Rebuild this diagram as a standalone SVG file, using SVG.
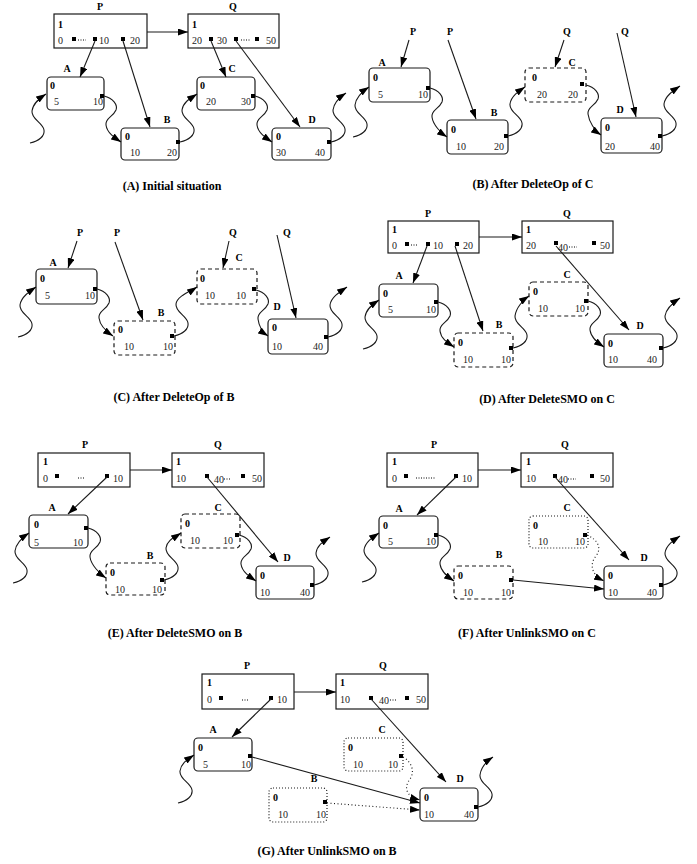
<svg xmlns="http://www.w3.org/2000/svg" width="697" height="864" viewBox="0 0 697 864">
<style>
.b{fill:none;stroke:#1a1a1a;stroke-width:1.2}
.ds{stroke-dasharray:4,3}
.dt{stroke-dasharray:1,2}
.sq{fill:#000}
.dl{stroke:#000;stroke-width:1;stroke-dasharray:1,1.5}
.l{font-family:"Liberation Serif",serif;font-weight:bold;font-size:10px;text-anchor:middle;fill:#000}
.z{font-family:"Liberation Serif",serif;font-weight:bold;font-size:10px;fill:#000}
.n{font-family:"Liberation Serif",serif;font-size:10px;fill:#222}
.cap{font-family:"Liberation Serif",serif;font-weight:bold;font-size:12px;text-anchor:middle;fill:#000}
.e{fill:none;stroke:#1a1a1a;stroke-width:1.1;marker-end:url(#ah)}
.ed{fill:none;stroke:#1a1a1a;stroke-width:1.1;stroke-dasharray:1,2.5;marker-end:url(#ah)}
</style>
<defs>
<marker id="ah" markerUnits="userSpaceOnUse" markerWidth="10" markerHeight="7" viewBox="0 0 10 7" refX="10" refY="3.5" orient="auto"><path d="M0,0L10,3.5L0,7z" fill="#000"/></marker>
</defs>

<!-- ===== Panel A ===== -->
<g id="A-P"><text class="l" x="100" y="10">P</text><rect class="b" x="54" y="14" width="93" height="34"/><text class="z" x="58" y="28">1</text><text class="n" x="58" y="44">0</text><rect class="sq" x="72" y="37" width="4" height="4"/><line class="dl" x1="78" y1="40" x2="86" y2="40"/><rect class="sq" x="93" y="37" width="4" height="4"/><text class="n" x="99" y="44">10</text><rect class="sq" x="121" y="37" width="4" height="4"/><text class="n" x="130" y="44">20</text></g>
<g id="A-Q"><text class="l" x="233" y="10">Q</text><rect class="b" x="188" y="14" width="91" height="34"/><text class="z" x="192" y="28">1</text><text class="n" x="192" y="44">20</text><rect class="sq" x="209" y="37" width="4" height="4"/><text class="n" x="217" y="44">30</text><rect class="sq" x="234" y="37" width="4" height="4"/><line class="dl" x1="241" y1="40" x2="250" y2="40"/><rect class="sq" x="255" y="37" width="4" height="4"/><text class="n" x="266" y="44">50</text></g>
<g id="A-A"><text class="l" x="67" y="72">A</text><rect class="b" x="47" y="77" width="57" height="33" rx="4"/><text class="z" x="50" y="89">0</text><text class="n" x="54" y="105">5</text><text class="n" x="93" y="105">10</text><rect class="sq" x="100" y="94" width="4" height="4"/></g>
<g id="A-B"><text class="l" x="167" y="123">B</text><rect class="b" x="121" y="128" width="58" height="32" rx="4"/><text class="z" x="125" y="140">0</text><text class="n" x="130" y="156">10</text><text class="n" x="167" y="156">20</text><rect class="sq" x="176" y="140" width="4" height="4"/></g>
<g id="A-C"><text class="l" x="232" y="72">C</text><rect class="b" x="197" y="77" width="58" height="33" rx="4"/><text class="z" x="200" y="89">0</text><text class="n" x="206" y="105">20</text><text class="n" x="241" y="105">30</text><rect class="sq" x="251" y="94" width="4" height="4"/></g>
<g id="A-D"><text class="l" x="312" y="123">D</text><rect class="b" x="272" y="128" width="59" height="32" rx="4"/><text class="z" x="276" y="140">0</text><text class="n" x="276" y="156">30</text><text class="n" x="315" y="156">40</text><rect class="sq" x="327" y="140" width="4" height="4"/></g>

<!-- ===== Panel B ===== -->
<g id="B-P1"><text class="l" x="413" y="35">P</text></g>
<g id="B-P2"><text class="l" x="450" y="35">P</text></g>
<g id="B-Q1"><text class="l" x="567" y="35">Q</text></g>
<g id="B-Q2"><text class="l" x="625" y="35">Q</text></g>
<g id="B-A"><text class="l" x="382" y="66">A</text><rect class="b" x="369" y="68" width="61" height="34" rx="4"/><text class="z" x="373" y="81">0</text><text class="n" x="378" y="98">5</text><text class="n" x="418" y="98">10</text><rect class="sq" x="426" y="86" width="4" height="4"/></g>
<g id="B-B"><text class="l" x="494" y="116">B</text><rect class="b" x="447" y="120" width="61" height="34" rx="4"/><text class="z" x="451" y="133">0</text><text class="n" x="456" y="150">10</text><text class="n" x="494" y="150">20</text><rect class="sq" x="504" y="134" width="4" height="4"/></g>
<g id="B-C"><text class="l" x="572" y="66">C</text><rect class="b ds" x="525" y="68" width="61" height="34" rx="4"/><text class="z" x="532" y="81">0</text><text class="n" x="537" y="98">20</text><text class="n" x="568" y="98">20</text><rect class="sq" x="580" y="82" width="4" height="4"/></g>
<g id="B-D"><text class="l" x="620" y="113">D</text><rect class="b" x="601" y="118" width="61" height="35" rx="4"/><text class="z" x="605" y="131">0</text><text class="n" x="605" y="150">20</text><text class="n" x="650" y="150">40</text><rect class="sq" x="658" y="134" width="4" height="4"/></g>

<!-- ===== Panel C ===== -->
<g id="C-P1"><text class="l" x="80" y="236">P</text></g>
<g id="C-P2"><text class="l" x="117" y="236">P</text></g>
<g id="C-Q1"><text class="l" x="233" y="236">Q</text></g>
<g id="C-Q2"><text class="l" x="287" y="236">Q</text></g>
<g id="C-A"><text class="l" x="53" y="266">A</text><rect class="b" x="36" y="269" width="61" height="35" rx="4"/><text class="z" x="40" y="282">0</text><text class="n" x="45" y="299">5</text><text class="n" x="85" y="299">10</text><rect class="sq" x="93" y="287" width="4" height="4"/></g>
<g id="C-B"><text class="l" x="161" y="316">B</text><rect class="b ds" x="114" y="321" width="61" height="34" rx="4"/><text class="z" x="118" y="333">0</text><text class="n" x="124" y="350">10</text><text class="n" x="163" y="350">10</text><rect class="sq" x="170" y="334" width="4" height="4"/></g>
<g id="C-C"><text class="l" x="239" y="261">C</text><rect class="b ds" x="197" y="269" width="60" height="35" rx="4"/><text class="z" x="200" y="282">0</text><text class="n" x="205" y="299">10</text><text class="n" x="236" y="299">10</text><rect class="sq" x="252" y="287" width="4" height="4"/></g>
<g id="C-D"><text class="l" x="277" y="310">D</text><rect class="b" x="268" y="319" width="60" height="35" rx="4"/><text class="z" x="272" y="331">0</text><text class="n" x="272" y="350">10</text><text class="n" x="313" y="350">40</text><rect class="sq" x="324" y="335" width="4" height="4"/></g>

<!-- ===== Panel D ===== -->
<g id="D-P"><text class="l" x="428" y="217">P</text><rect class="b" x="388" y="221" width="91" height="32"/><text class="z" x="392" y="233">1</text><text class="n" x="392" y="249">0</text><rect class="sq" x="405" y="242" width="4" height="4"/><line class="dl" x1="411" y1="245" x2="418" y2="245"/><rect class="sq" x="426" y="242" width="4" height="4"/><text class="n" x="433" y="249">10</text><rect class="sq" x="455" y="242" width="4" height="4"/><text class="n" x="463" y="249">20</text></g>
<g id="D-Q"><text class="l" x="567" y="217">Q</text><rect class="b" x="522" y="221" width="91" height="32"/><text class="z" x="526" y="233">1</text><text class="n" x="526" y="249">20</text><rect class="sq" x="554" y="241" width="4" height="4"/><text class="n" x="558" y="251">40</text><line class="dl" x1="569" y1="247" x2="577" y2="247"/><rect class="sq" x="592" y="241" width="4" height="4"/><text class="n" x="600" y="249">50</text></g>
<g id="D-A"><text class="l" x="399" y="279">A</text><rect class="b" x="379" y="284" width="59" height="33" rx="4"/><text class="z" x="383" y="297">0</text><text class="n" x="388" y="313">5</text><text class="n" x="426" y="313">10</text><rect class="sq" x="434" y="300" width="4" height="4"/></g>
<g id="D-B"><text class="l" x="499" y="328">B</text><rect class="b ds" x="454" y="333" width="59" height="34" rx="4"/><text class="z" x="458" y="346">0</text><text class="n" x="463" y="363">10</text><text class="n" x="501" y="363">10</text><rect class="sq" x="509" y="346" width="4" height="4"/></g>
<g id="D-C"><text class="l" x="567" y="278">C</text><rect class="b ds" x="529" y="282" width="59" height="34" rx="4"/><text class="z" x="533" y="295">0</text><text class="n" x="538" y="312">10</text><text class="n" x="575" y="312">10</text><rect class="sq" x="584" y="299" width="4" height="4"/></g>
<g id="D-D"><text class="l" x="640" y="329">D</text><rect class="b" x="604" y="334" width="59" height="33" rx="4"/><text class="z" x="608" y="347">0</text><text class="n" x="608" y="363">10</text><text class="n" x="647" y="363">40</text><rect class="sq" x="659" y="346" width="4" height="4"/></g>

<!-- ===== Panel E ===== -->
<g id="E-P"><text class="l" x="85" y="448">P</text><rect class="b" x="38" y="453" width="92" height="34"/><text class="z" x="43" y="465">1</text><text class="n" x="43" y="482">0</text><rect class="sq" x="55" y="474" width="4" height="4"/><line class="dl" x1="78" y1="478" x2="85" y2="478"/><rect class="sq" x="105" y="474" width="4" height="4"/><text class="n" x="113" y="482">10</text></g>
<g id="E-Q"><text class="l" x="218" y="448">Q</text><rect class="b" x="172" y="453" width="92" height="34"/><text class="z" x="176" y="465">1</text><text class="n" x="176" y="482">10</text><rect class="sq" x="205" y="474" width="4" height="4"/><text class="n" x="214" y="483">40</text><line class="dl" x1="224" y1="479" x2="231" y2="479"/><rect class="sq" x="241" y="474" width="4" height="4"/><text class="n" x="252" y="482">50</text></g>
<g id="E-A"><text class="l" x="52" y="511">A</text><rect class="b" x="29" y="515" width="59" height="33" rx="4"/><text class="z" x="34" y="528">0</text><text class="n" x="34" y="546">5</text><text class="n" x="73" y="546">10</text><rect class="sq" x="84" y="526" width="4" height="4"/></g>
<g id="E-B"><text class="l" x="150" y="559">B</text><rect class="b ds" x="106" y="563" width="59" height="32" rx="4"/><text class="z" x="110" y="576">0</text><text class="n" x="115" y="593">10</text><text class="n" x="152" y="593">10</text><rect class="sq" x="160" y="578" width="4" height="4"/></g>
<g id="E-C"><text class="l" x="218" y="511">C</text><rect class="b ds" x="181" y="514" width="59" height="34" rx="4"/><text class="z" x="185" y="527">0</text><text class="n" x="190" y="544">10</text><text class="n" x="223" y="544">10</text><rect class="sq" x="235" y="533" width="4" height="4"/></g>
<g id="E-D"><text class="l" x="287" y="561">D</text><rect class="b" x="256" y="566" width="58" height="33" rx="4"/><text class="z" x="260" y="579">0</text><text class="n" x="260" y="596">10</text><text class="n" x="300" y="596">40</text><rect class="sq" x="310" y="583" width="4" height="4"/></g>

<!-- ===== Panel F ===== -->
<g id="F-P"><text class="l" x="434" y="448">P</text><rect class="b" x="387" y="453" width="91" height="34"/><text class="z" x="392" y="465">1</text><text class="n" x="392" y="482">0</text><rect class="sq" x="404" y="474" width="4" height="4"/><line class="dl" x1="416" y1="478" x2="436" y2="478"/><rect class="sq" x="454" y="474" width="4" height="4"/><text class="n" x="462" y="482">10</text></g>
<g id="F-Q"><text class="l" x="565" y="448">Q</text><rect class="b" x="521" y="453" width="92" height="34"/><text class="z" x="526" y="465">1</text><text class="n" x="526" y="482">10</text><rect class="sq" x="553" y="474" width="4" height="4"/><text class="n" x="558" y="483">40</text><line class="dl" x1="568" y1="479" x2="576" y2="479"/><rect class="sq" x="590" y="474" width="4" height="4"/><text class="n" x="600" y="482">50</text></g>
<g id="F-A"><text class="l" x="399" y="512">A</text><rect class="b" x="379" y="516" width="59" height="32" rx="4"/><text class="z" x="383" y="529">0</text><text class="n" x="388" y="545">5</text><text class="n" x="426" y="545">10</text><rect class="sq" x="434" y="533" width="4" height="4"/></g>
<g id="F-B"><text class="l" x="499" y="558">B</text><rect class="b ds" x="454" y="566" width="59" height="33" rx="4"/><text class="z" x="458" y="579">0</text><text class="n" x="463" y="596">10</text><text class="n" x="501" y="596">10</text><rect class="sq" x="509" y="578" width="4" height="4"/></g>
<g id="F-C"><text class="l" x="567" y="511">C</text><rect class="b dt" x="529" y="516" width="59" height="32" rx="4"/><text class="z" x="533" y="529">0</text><text class="n" x="538" y="545">10</text><text class="n" x="575" y="545">10</text><rect class="sq" x="583" y="533" width="4" height="4"/></g>
<g id="F-D"><text class="l" x="644" y="561">D</text><rect class="b" x="604" y="566" width="59" height="33" rx="4"/><text class="z" x="608" y="579">0</text><text class="n" x="608" y="596">10</text><text class="n" x="647" y="596">40</text><rect class="sq" x="659" y="583" width="4" height="4"/></g>

<!-- ===== Panel G ===== -->
<g id="G-P"><text class="l" x="247" y="669">P</text><rect class="b" x="202" y="674" width="92" height="35"/><text class="z" x="207" y="686">1</text><text class="n" x="207" y="703">0</text><rect class="sq" x="219" y="696" width="4" height="4"/><line class="dl" x1="242" y1="700" x2="249" y2="700"/><rect class="sq" x="269" y="696" width="4" height="4"/><text class="n" x="277" y="703">10</text></g>
<g id="G-Q"><text class="l" x="383" y="669">Q</text><rect class="b" x="336" y="674" width="92" height="35"/><text class="z" x="340" y="686">1</text><text class="n" x="340" y="703">10</text><rect class="sq" x="369" y="696" width="4" height="4"/><text class="n" x="379" y="704">40</text><line class="dl" x1="390" y1="700" x2="397" y2="700"/><rect class="sq" x="405" y="696" width="4" height="4"/><text class="n" x="416" y="703">50</text></g>
<g id="G-A"><text class="l" x="213" y="733">A</text><rect class="b" x="194" y="738" width="58" height="33" rx="4"/><text class="z" x="198" y="751">0</text><text class="n" x="203" y="768">5</text><text class="n" x="241" y="768">10</text><rect class="sq" x="248" y="754" width="4" height="4"/></g>
<g id="G-C"><text class="l" x="382" y="733">C</text><rect class="b dt" x="344" y="738" width="59" height="33" rx="4"/><text class="z" x="348" y="751">0</text><text class="n" x="353" y="768">10</text><text class="n" x="388" y="768">10</text><rect class="sq" x="399" y="754" width="4" height="4"/></g>
<g id="G-B"><text class="l" x="314" y="782">B</text><rect class="b dt" x="269" y="788" width="58" height="34" rx="4"/><text class="z" x="273" y="801">0</text><text class="n" x="278" y="818">10</text><text class="n" x="316" y="818">10</text><rect class="sq" x="323" y="800" width="4" height="4"/></g>
<g id="G-D"><text class="l" x="460" y="782">D</text><rect class="b" x="420" y="788" width="58" height="33" rx="4"/><text class="z" x="424" y="801">0</text><text class="n" x="424" y="818">10</text><text class="n" x="464" y="818">40</text><rect class="sq" x="474" y="805" width="4" height="4"/></g>

<!-- ===== Connectors ===== -->
<g id="connectors">
<!-- A -->
<path class="e" d="M147,32L188,32"/>
<path class="e" d="M95,41L80,77"/>
<path class="e" d="M123,41L150,127"/>
<path class="e" d="M211,41L226,77"/>
<path class="e" d="M236,41L300,127"/>
<path class="e" d="M30,143c9,-2 15,-7 14,-13c-1,-7 -13,-11 -12,-19c1,-8 8,-13 14,-17"/>
<path class="e" d="M104,96c9,2 14,9 12,14c-3,7 -11,8 -10,15c1,8 9,13 15,17"/>
<path class="e" d="M180,142c9,-2 15,-7 14,-13c-1,-7 -13,-11 -12,-19c1,-8 9,-12 15,-16"/>
<path class="e" d="M255,96c9,2 14,9 12,14c-3,7 -11,8 -10,15c1,8 9,13 15,17"/>
<path class="e" d="M331,142c9,-2 15,-7 14,-13c-1,-7 -13,-11 -12,-19c1,-8 7,-13 13,-17"/>
<!-- B -->
<path class="e" d="M409,40L401,67"/>
<path class="e" d="M448,40L476,119"/>
<path class="e" d="M564,40L555,67"/>
<path class="e" d="M617,33L636,117"/>
<path class="e" d="M353,137c9,-2 15,-7 14,-13c-1,-7 -13,-11 -12,-19c1,-8 8,-14 14,-18"/>
<path class="e" d="M430,88c9,2 14,9 12,14c-3,7 -11,8 -10,15c1,8 9,16 15,20"/>
<path class="e" d="M508,136c9,-2 15,-7 14,-13c-1,-7 -13,-11 -12,-19c1,-8 9,-13 15,-17"/>
<path class="e" d="M586,85c9,2 14,9 12,14c-3,7 -11,8 -10,15c1,8 7,17 13,21"/>
<path class="e" d="M662,136c9,-2 15,-7 14,-13c-1,-7 -13,-11 -12,-19c1,-8 10,-14 16,-18"/>
<!-- C -->
<path class="e" d="M77,241L68,268"/>
<path class="e" d="M115,242L143,320"/>
<path class="e" d="M229,241L223,268"/>
<path class="e" d="M277,235L296,318"/>
<path class="e" d="M18,337c9,-2 15,-7 14,-13c-1,-7 -13,-11 -12,-19c1,-8 10,-14 16,-18"/>
<path class="e" d="M97,289c9,2 14,9 12,14c-3,7 -11,8 -10,15c1,8 8,14 14,18"/>
<path class="e" d="M174,336c9,-2 15,-7 14,-13c-1,-7 -13,-11 -12,-19c1,-8 15,-13 21,-17"/>
<path class="e" d="M256,290c9,2 14,9 12,14c-3,7 -11,8 -10,15c1,8 4,13 10,17"/>
<path class="e" d="M328,337c9,-2 15,-7 14,-13c-1,-7 -13,-11 -12,-19c1,-8 11,-14 17,-18"/>
<!-- D -->
<path class="e" d="M479,237L522,237"/>
<path class="e" d="M427,246L413,283"/>
<path class="e" d="M455,246L483,331"/>
<path class="e" d="M556,246L629,330"/>
<path class="e" d="M363,349c9,-2 15,-7 14,-13c-1,-7 -13,-11 -12,-19c1,-8 8,-13 14,-17"/>
<path class="e" d="M438,302c9,2 14,9 12,14c-3,7 -11,8 -10,15c1,8 8,12 14,16"/>
<path class="e" d="M513,348c9,-2 15,-7 14,-13c-1,-7 -13,-11 -12,-19c1,-8 8,-16 14,-20"/>
<path class="e" d="M588,301c9,2 14,9 12,14c-3,7 -11,8 -10,15c1,8 8,13 14,17"/>
<path class="e" d="M663,348c9,-2 15,-7 14,-13c-1,-7 -13,-11 -12,-19c1,-8 9,-14 15,-18"/>
<!-- E -->
<path class="e" d="M130,470L172,470"/>
<path class="e" d="M107,477L68,514"/>
<path class="e" d="M207,477L278,562"/>
<path class="e" d="M13,583c9,-2 15,-7 14,-13c-1,-7 -13,-11 -12,-19c1,-8 8,-14 14,-18"/>
<path class="e" d="M88,528c9,2 14,9 12,14c-3,7 -11,8 -10,15c1,8 10,17 16,21"/>
<path class="e" d="M164,580c9,-2 15,-7 14,-13c-1,-7 -13,-11 -12,-19c1,-8 9,-11 15,-15"/>
<path class="e" d="M239,535c9,2 14,9 12,14c-3,7 -11,8 -10,15c1,8 9,13 15,17"/>
<path class="e" d="M314,585c9,-2 15,-7 14,-13c-1,-7 -13,-11 -12,-19c1,-8 8,-12 14,-16"/>
<!-- F -->
<path class="e" d="M478,470L521,470"/>
<path class="e" d="M456,477L417,515"/>
<path class="e" d="M555,477L629,560"/>
<path class="e" d="M362,582c9,-2 15,-7 14,-13c-1,-7 -13,-11 -12,-19c1,-8 9,-13 15,-17"/>
<path class="e" d="M438,535c9,2 14,9 12,14c-3,7 -11,8 -10,15c1,8 8,13 14,17"/>
<path class="e" d="M513,580L604,589"/>
<path class="ed" d="M587,535C598,540 602,548 596,556C590,563 590,574 604,581"/>
<path class="e" d="M663,585c9,-2 15,-7 14,-13c-1,-7 -13,-11 -12,-19c1,-8 9,-13 15,-17"/>
<!-- G -->
<path class="e" d="M294,692L336,692"/>
<path class="e" d="M271,699L232,737"/>
<path class="e" d="M371,699L446,782"/>
<path class="e" d="M178,803c9,-2 15,-7 14,-13c-1,-7 -13,-11 -12,-19c1,-8 8,-12 14,-16"/>
<path class="e" d="M252,757L420,803"/>
<path class="ed" d="M327,803L420,810"/>
<path class="ed" d="M403,757C412,762 415,772 410,779C404,787 405,796 420,800"/>
<path class="e" d="M478,807c9,-2 15,-7 14,-13c-1,-7 -13,-11 -12,-19c1,-8 7,-14 13,-18"/>
</g>

<!-- ===== Captions ===== -->
<g id="captions">
<text class="cap" x="172" y="190">(A) Initial situation</text>
<text class="cap" x="533" y="188">(B) After DeleteOp of C</text>
<text class="cap" x="174" y="401">(C) After DeleteOp of B</text>
<text class="cap" x="547" y="403">(D) After DeleteSMO on C</text>
<text class="cap" x="175" y="637">(E) After DeleteSMO on B</text>
<text class="cap" x="527" y="637">(F) After UnlinkSMO on C</text>
<text class="cap" x="327" y="855">(G) After UnlinkSMO on B</text>
</g>
</svg>
